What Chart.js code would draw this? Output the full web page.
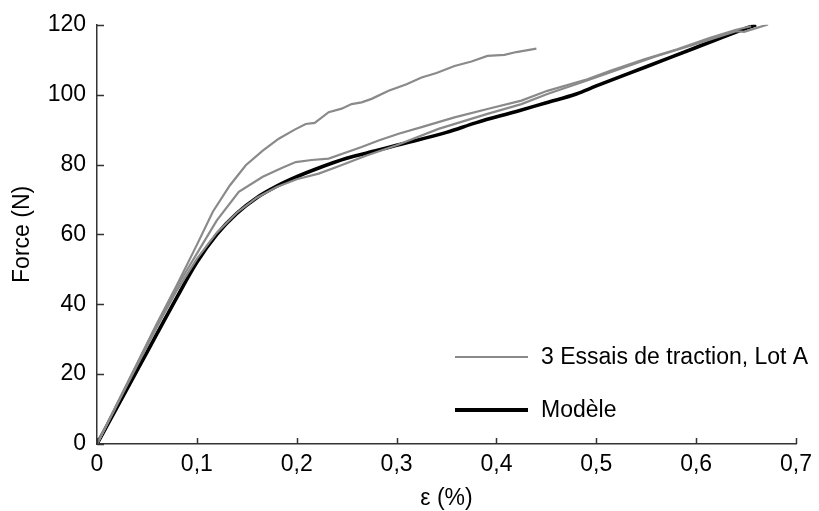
<!DOCTYPE html>
<html><head><meta charset="utf-8">
<script src="https://cdn.jsdelivr.net/npm/chart.js@4.4.1/dist/chart.umd.min.js"></script>
<style>html,body{margin:0;padding:0;background:#fff}#wrap{width:819px;height:511px;position:relative}</style>
</head><body><div id="wrap"><canvas id="c"></canvas></div>
<script>
const xTickValues = [0, 0.1, 0.2, 0.3, 0.4, 0.5, 0.6, 0.7];
const yTickValues = [0, 20, 40, 60, 80, 100, 120];
const xTitle = 'ε (%)';
const yTitle = 'Force (N)';
const legendLabels = ['3 Essais de traction, Lot A', 'Modèle'];

const test1X = [0,0.02,0.04,0.06,0.08,0.1,0.116,0.133,0.149,0.166,0.182,0.198,0.209,0.218,0.232,0.245,0.255,0.265,0.275,0.292,0.31,0.325,0.34,0.358,0.375,0.391,0.408,0.42,0.44];
const test1Y = [0,11.5,23,34.5,45.5,57,66.5,74,79.8,84,87.4,90,91.6,91.9,95,96,97.3,97.8,98.8,101.1,103,104.9,106.2,108.2,109.5,111.1,111.4,112.2,113.2];

const test2X = [0,0.02,0.04,0.06,0.08,0.1,0.12,0.142,0.166,0.185,0.199,0.215,0.232,0.25,0.265,0.282,0.302,0.325,0.358,0.391,0.425,0.451,0.491,0.514,0.548,0.581,0.614,0.64,0.655];
const test2Y = [0,11.3,22.8,34.2,45,54.5,64,72.2,76.5,79,80.7,81.3,81.7,83.5,85,86.9,88.8,90.7,93.5,95.9,98.3,101.1,104.4,106.8,110.1,113,116.3,118.6,119.6];

const test3X = [0,0.02,0.04,0.06,0.08,0.1,0.12,0.14,0.16,0.18,0.2,0.222,0.24,0.27,0.3,0.342,0.391,0.425,0.451,0.49,0.52,0.56,0.6,0.64,0.648,0.672];
const test3Y = [0,11.2,22.4,33.5,44,53,60.5,66.2,70.5,73.6,75.8,77.4,79.3,82.6,85.5,90.2,94.5,97.3,100.2,104,107,111,114.5,118.2,118.0,120.1];

const modelX = [0,0.02,0.04,0.06,0.08,0.1,0.12,0.14,0.16,0.18,0.2,0.22,0.25,0.28,0.3,0.35,0.38,0.42,0.45,0.48,0.5,0.55,0.6,0.65,0.66];
const modelY = [0,10.5,21,31.5,42,52,60,66,70.5,73.8,76.5,78.8,81.8,84,85.5,89.2,92,95.2,97.7,100.2,102.5,108,113.5,119,120];

const GRAY = '#8a8a8a';
const BLACK = '#000000';
const AXIS = '#333333';
const FONT = "'Liberation Sans', Arial, sans-serif";
const FSIZE = 23;

Chart.defaults.font.family = FONT;
Chart.defaults.font.size = FSIZE;
Chart.defaults.color = '#000';

function pts(xs, ys) { return xs.map((x, i) => ({x: x, y: ys[i]})); }
function fmt(v) { return (Math.round(v * 10) / 10).toString().replace('.', ','); }

const inwardTicks = {
  id: 'inwardTicks',
  afterDatasetsDraw(chart) {
    const ctx = chart.ctx, xs = chart.scales.x, ys = chart.scales.y, a = chart.chartArea;
    ctx.save();
    ctx.strokeStyle = AXIS; ctx.lineWidth = 1.5;
    ctx.beginPath();
    xTickValues.forEach(v => { const px = Math.round(xs.getPixelForValue(v)) + 0.5; ctx.moveTo(px, a.bottom); ctx.lineTo(px, a.bottom - 6); });
    yTickValues.forEach(v => { const py = Math.round(ys.getPixelForValue(v)) + 0.5; ctx.moveTo(a.left, py); ctx.lineTo(a.left + 7, py); });
    ctx.stroke();
    ctx.restore();
  }
};

const customLegend = {
  id: 'customLegend',
  afterDraw(chart) {
    const ctx = chart.ctx, a = chart.chartArea;
    const x0 = a.left + 358, x1 = a.left + 431, tx = a.left + 444;
    const rows = [{y: a.bottom - 87, color: GRAY, w: 2.2, label: legendLabels[0]},
                  {y: a.bottom - 34, color: BLACK, w: 4, label: legendLabels[1]}];
    ctx.save();
    ctx.font = FSIZE + 'px ' + FONT;
    ctx.textBaseline = 'middle';
    ctx.fillStyle = '#000';
    rows.forEach(r => {
      ctx.strokeStyle = r.color; ctx.lineWidth = r.w;
      ctx.beginPath(); ctx.moveTo(x0, r.y); ctx.lineTo(x1, r.y); ctx.stroke();
      ctx.fillText(r.label, tx, r.y + 1);
    });
    ctx.restore();
  }
};

const testStyle = {borderColor: GRAY, borderWidth: 2.2, pointRadius: 0, showLine: true, tension: 0, fill: false};

new Chart(document.getElementById('c'), {
  type: 'scatter',
  data: {
    datasets: [
      Object.assign({label: legendLabels[0], data: pts(test1X, test1Y)}, testStyle),
      Object.assign({label: legendLabels[0] + ' 2', data: pts(test2X, test2Y)}, testStyle),
      Object.assign({label: legendLabels[0] + ' 3', data: pts(test3X, test3Y)}, testStyle),
      {label: legendLabels[1], data: pts(modelX, modelY), borderColor: BLACK, borderWidth: 3.6, pointRadius: 0, showLine: true, cubicInterpolationMode: 'monotone', fill: false}
    ]
  },
  options: {
    responsive: true, maintainAspectRatio: false, animation: false,
    layout: {padding: {top: 22, right: 19, left: 0, bottom: 0}},
    plugins: {legend: {display: false}, tooltip: {enabled: false}},
    scales: {
      x: {
        type: 'linear', min: 0, max: 0.7,
        afterBuildTicks: s => { s.ticks = xTickValues.map(v => ({value: v})); },
        afterFit: s => { s.height = 67; },
        grid: {display: true, drawOnChartArea: false, drawTicks: false},
        border: {display: true, color: AXIS, width: 1.5},
        ticks: {padding: 7, color: '#000', font: {family: FONT, size: FSIZE}, maxRotation: 0, autoSkip: false, callback: v => fmt(v)},
        title: {display: true, text: xTitle, color: '#000', font: {family: FONT, size: FSIZE, lineHeight: 1.05}, padding: {top: 0, bottom: 0}}
      },
      y: {
        type: 'linear', min: 0, max: 120,
        afterBuildTicks: s => { s.ticks = yTickValues.map(v => ({value: v})); },
        afterFit: s => { s.width = 97; },
        grid: {display: true, drawOnChartArea: false, drawTicks: false},
        border: {display: true, color: AXIS, width: 1.5},
        ticks: {padding: 11, color: '#000', font: {family: FONT, size: FSIZE}, autoSkip: false, callback: v => String(v)},
        title: {display: true, text: yTitle, color: '#000', font: {family: FONT, size: FSIZE}, padding: {top: 9, bottom: 0}}
      }
    }
  },
  plugins: [inwardTicks, customLegend]
});
</script></body></html>
